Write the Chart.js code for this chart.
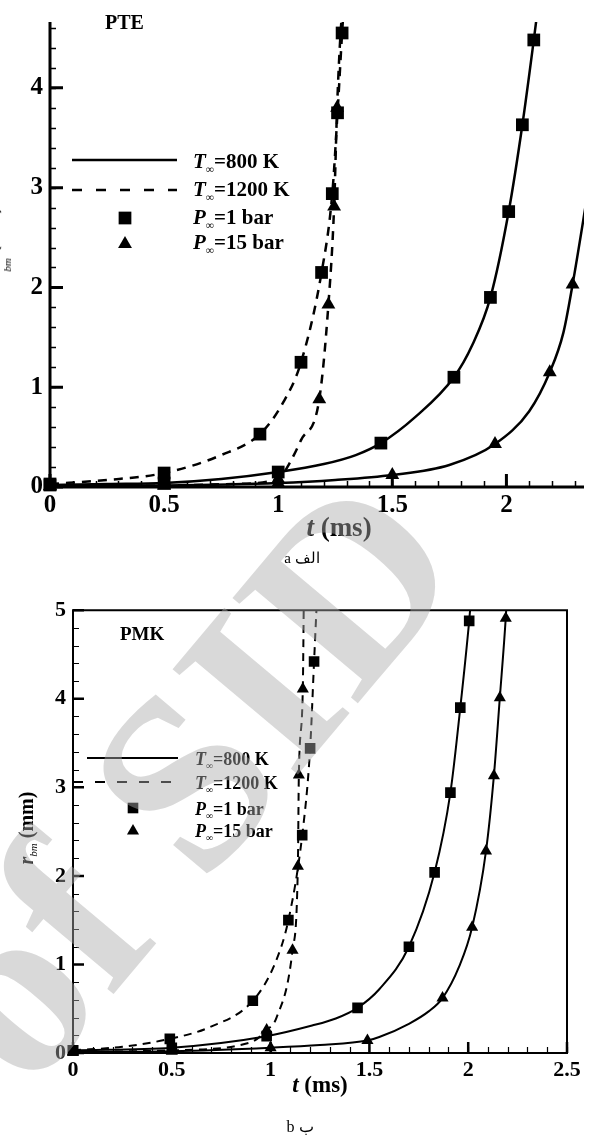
<!DOCTYPE html>
<html>
<head>
<meta charset="utf-8">
<script src="https://cdn.jsdelivr.net/npm/chart.js@4.4.1/dist/chart.umd.min.js"></script>
<style>
    html, body { margin: 0; padding: 0; background: #fff; }
    #page { position: relative; width: 593px; height: 1139px; overflow: hidden; font-family: "Liberation Serif", "Times New Roman", serif; color: #000; }
    canvas { position: absolute; left: 0; }
    .txt { position: absolute; white-space: nowrap; font-weight: bold; line-height: 1; }
    .sub { font-size: 0.55em; position: relative; top: 0.4em; font-weight: normal; }
    .subLow { font-size: 0.55em; position: relative; top: 1.3em; font-weight: normal; }
    .cap { position: absolute; white-space: nowrap; line-height: 1; transform: translateX(-50%); }
    #wm { z-index: 10; pointer-events: none; top: 0; }
</style>
</head>
<body>
<div id="page">
    <canvas id="chartA" width="593" height="560" style="top:0"></canvas>
    <canvas id="chartB" width="593" height="500" style="top:590px"></canvas>

    <!-- panel a -->
    <div class="txt" style="left:105px;top:12px;font-size:20px">PTE</div>
    <div class="txt" style="left:193px;top:151px;font-size:21px"><i>T</i><span class="sub">∞</span>=800 K</div>
    <div class="txt" style="left:193px;top:179px;font-size:21px"><i>T</i><span class="sub">∞</span>=1200 K</div>
    <div class="txt" style="left:193px;top:207px;font-size:21px"><i>P</i><span class="sub">∞</span>=1 bar</div>
    <div class="txt" style="left:193px;top:232px;font-size:21px"><i>P</i><span class="sub">∞</span>=15 bar</div>
    <div class="txt" style="left:339px;top:527px;font-size:27px;transform:translate(-50%,-50%)"><i>t</i> (ms)</div>
    <div class="txt" style="left:-10px;top:243px;font-size:20px;transform:translate(-50%,-50%) rotate(-90deg)"><i>r</i><span class="subLow"><i>bm</i></span> (mm)</div>
    <div class="cap" dir="ltr" style="left:302px;top:551px;font-size:15px">a الف</div>

    <!-- panel b -->
    <div class="txt" style="left:120px;top:624px;font-size:19px">PMK</div>
    <div class="txt" style="left:195px;top:750px;font-size:18px"><i>T</i><span class="sub">∞</span>=800 K</div>
    <div class="txt" style="left:195px;top:774px;font-size:18px"><i>T</i><span class="sub">∞</span>=1200 K</div>
    <div class="txt" style="left:195px;top:800px;font-size:18px"><i>P</i><span class="sub">∞</span>=1 bar</div>
    <div class="txt" style="left:195px;top:822px;font-size:18px"><i>P</i><span class="sub">∞</span>=15 bar</div>
    <div class="txt" style="left:320px;top:1084px;font-size:23px;transform:translate(-50%,-50%)"><i>t</i> (ms)</div>
    <div class="txt" style="left:26px;top:828px;font-size:20px;transform:translate(-50%,-50%) rotate(-90deg)"><i>r</i><span class="sub"><i>bm</i></span> (mm)</div>
    <div class="cap" dir="ltr" style="left:300px;top:1119px;font-size:16px">b ب</div>

    <canvas id="wm" width="593" height="1139"></canvas>
</div>

<script>
// ---- (a) PTE ----
const pteXTicks = [0, 0.5, 1, 1.5, 2];
const pteYTicks = [0, 1, 2, 3, 4];

// T=800 K, P=1 bar
const pte800p1T = [0, 0.25, 0.5, 0.75, 1.0, 1.2, 1.34, 1.45, 1.6, 1.77, 1.85, 1.93, 2.01, 2.07, 2.12, 2.145];
const pte800p1R = [0.02, 0.03, 0.04, 0.08, 0.15, 0.23, 0.32, 0.44, 0.70, 1.10, 1.42, 1.90, 2.76, 3.63, 4.48, 4.93];
const pte800p1Mk = [0, 2, 4, 7, 9, 11, 12, 13, 14];
// T=800 K, P=15 bar
const pte800p15T = [0, 0.5, 1.0, 1.25, 1.5, 1.75, 1.95, 2.1, 2.19, 2.25, 2.29, 2.36];
const pte800p15R = [0.01, 0.015, 0.04, 0.07, 0.12, 0.22, 0.43, 0.76, 1.15, 1.55, 2.03, 3.0];
const pte800p15Mk = [0, 1, 2, 4, 6, 8, 10];
// T=1200 K, P=1 bar
const pte1200p1T = [0, 0.25, 0.5, 0.75, 0.92, 1.02, 1.10, 1.19, 1.237, 1.26, 1.28, 1.29];
const pte1200p1R = [0.03, 0.07, 0.14, 0.32, 0.53, 0.84, 1.25, 2.15, 2.94, 3.75, 4.55, 4.9];
const pte1200p1Mk = [0, 2, 4, 6, 7, 8, 9, 10];
// T=1200 K, P=15 bar
const pte1200p15T = [0, 0.5, 0.8, 1.0, 1.05, 1.1, 1.18, 1.22, 1.245, 1.258, 1.272, 1.285];
const pte1200p15R = [0.005, 0.015, 0.03, 0.08, 0.24, 0.47, 0.88, 1.83, 2.81, 3.8, 4.5, 4.9];
const pte1200p15Mk = [0, 1, 3, 6, 7, 8, 9];

// ---- (b) PMK ----
const pmkXTicks = [0, 0.5, 1, 1.5, 2, 2.5];
const pmkYTicks = [0, 1, 2, 3, 4, 5];

const pmk800p1T = [0, 0.5, 0.98, 1.21, 1.33, 1.44, 1.55, 1.70, 1.83, 1.91, 1.96, 2.005, 2.015];
const pmk800p1R = [0.03, 0.06, 0.19, 0.31, 0.39, 0.51, 0.72, 1.20, 2.04, 2.94, 3.90, 4.88, 5.15];
const pmk800p1Mk = [0, 1, 2, 5, 7, 8, 9, 10, 11];

const pmk800p15T = [0, 0.5, 1.0, 1.25, 1.49, 1.55, 1.7, 1.8, 1.87, 1.955, 2.02, 2.09, 2.13, 2.16, 2.19, 2.196];
const pmk800p15R = [0.01, 0.02, 0.06, 0.09, 0.14, 0.18, 0.33, 0.47, 0.62, 0.98, 1.42, 2.28, 3.13, 4.01, 4.91, 5.15];
const pmk800p15Mk = [0, 1, 2, 4, 8, 10, 11, 12, 13, 14];

const pmk1200p1T = [0, 0.25, 0.49, 0.69, 0.91, 1.02, 1.09, 1.16, 1.20, 1.22, 1.235];
const pmk1200p1R = [0.03, 0.07, 0.16, 0.29, 0.59, 1.0, 1.50, 2.46, 3.44, 4.42, 5.15];
const pmk1200p1Mk = [0, 2, 4, 6, 7, 8, 9];

const pmk1200p15T = [0, 0.5, 0.9, 0.98, 1.03, 1.111, 1.138, 1.143, 1.163, 1.168];
const pmk1200p15R = [0.01, 0.03, 0.12, 0.26, 0.40, 1.16, 2.11, 3.14, 4.11, 5.1];
const pmk1200p15Mk = [0, 1, 3, 5, 6, 7, 8];

// axes, inward ticks, and the little legend symbols
const framePlugin = {
    id: 'frame',
    beforeDatasetsDraw(chart, args, o) {
        const { ctx, chartArea: a, scales: { x, y } } = chart;
        ctx.save();
        ctx.strokeStyle = '#000';
        ctx.lineCap = 'butt';

        // minor ticks
        ctx.lineWidth = o.minorWidth;
        ctx.beginPath();
        const nx = Math.round(x.max / o.minorX);
        for (let i = 0; i <= nx; i++) {
            const px = Math.round(x.getPixelForValue(i * o.minorX)) + 0.5;
            ctx.moveTo(px, a.bottom); ctx.lineTo(px, a.bottom - o.minorLen);
        }
        const ny = Math.round(y.max / o.minorY);
        for (let i = 0; i <= ny; i++) {
            const py = Math.round(y.getPixelForValue(i * o.minorY)) + 0.5;
            ctx.moveTo(a.left, py); ctx.lineTo(a.left + o.minorLen, py);
        }
        ctx.stroke();

        // major ticks
        ctx.lineWidth = o.majorWidth;
        ctx.beginPath();
        x.ticks.forEach(t => {
            const px = x.getPixelForValue(t.value);
            ctx.moveTo(px, a.bottom); ctx.lineTo(px, a.bottom - o.majorLen);
        });
        y.ticks.forEach(t => {
            const py = y.getPixelForValue(t.value);
            ctx.moveTo(a.left, py); ctx.lineTo(a.left + o.majorLen, py);
        });
        ctx.stroke();

        // axis lines / box
        ctx.lineWidth = o.axisWidth;
        ctx.beginPath();
        if (o.box) {
            ctx.rect(a.left, a.top, a.right - a.left, a.bottom - a.top);
        } else {
            ctx.moveTo(a.left, a.top); ctx.lineTo(a.left, a.bottom); ctx.lineTo(a.right, a.bottom);
        }
        ctx.stroke();
        ctx.restore();
    },
    afterDraw(chart, args, o) {
        const ctx = chart.ctx;
        const L = o.legend;
        ctx.save();
        ctx.strokeStyle = '#000';
        ctx.fillStyle = '#000';
        ctx.lineWidth = o.lineWidth;
        ctx.beginPath();
        ctx.moveTo(L.solid[0], L.solid[2]); ctx.lineTo(L.solid[1], L.solid[2]);
        ctx.stroke();
        ctx.setLineDash(L.dash);
        ctx.beginPath();
        ctx.moveTo(L.dashed[0], L.dashed[2]); ctx.lineTo(L.dashed[1], L.dashed[2]);
        ctx.stroke();
        ctx.setLineDash([]);
        const s = o.rectR / Math.SQRT2;
        ctx.fillRect(L.square[0] - s, L.square[1] - s, 2 * s, 2 * s);
        const r = o.triR;
        ctx.beginPath();
        ctx.moveTo(L.tri[0], L.tri[1] - r);
        ctx.lineTo(L.tri[0] + 0.866 * r, L.tri[1] + r / 2);
        ctx.lineTo(L.tri[0] - 0.866 * r, L.tri[1] + r / 2);
        ctx.closePath();
        ctx.fill();
        ctx.restore();
    }
};

function makeSeries(t, r, mk, dashed, style, p) {
    return {
        data: t.map((v, i) => ({ x: v, y: r[i] })),
        borderColor: '#000',
        backgroundColor: '#000',
        borderWidth: p.lineWidth,
        borderDash: dashed ? p.dash : [],
        cubicInterpolationMode: 'monotone',
        pointStyle: style,
        pointRadius: t.map((v, i) => mk.includes(i) ? (style === 'rect' ? p.rectR : p.triR) : 0),
        pointBorderWidth: 0,
        pointBackgroundColor: '#000',
        clip: { left: 14, top: 0, right: 0, bottom: 14 }
    };
}

function makePanel(id, p) {
    const tickFont = { family: 'Liberation Serif', weight: 'bold', size: p.tickSize };
    return new Chart(document.getElementById(id), {
        type: 'line',
        data: { datasets: p.series.map(s => makeSeries(s[0], s[1], s[2], s[3], s[4], p)) },
        options: {
            responsive: false,
            animation: false,
            events: [],
            layout: { padding: p.padding },
            plugins: {
                legend: { display: false },
                tooltip: { enabled: false },
                frame: p
            },
            scales: {
                x: {
                    type: 'linear', min: 0, max: p.xMax,
                    grid: { display: false, drawTicks: false },
                    border: { display: false },
                    ticks: { font: tickFont, color: '#000', padding: p.xPad, maxRotation: 0, callback: v => String(v) },
                    afterBuildTicks: s => { s.ticks = p.xTicks.map(v => ({ value: v })); },
                    afterFit: s => { s.height = p.xHeight; }
                },
                y: {
                    type: 'linear', min: 0, max: p.yMax,
                    grid: { display: false, drawTicks: false },
                    border: { display: false },
                    ticks: { font: tickFont, color: '#000', padding: p.yPad, callback: v => String(v) },
                    afterBuildTicks: s => { s.ticks = p.yTicks.map(v => ({ value: v })); },
                    afterFit: s => { s.width = p.yWidth; }
                }
            }
        },
        plugins: [framePlugin]
    });
}

makePanel('chartA', {
    xMax: 2.34, yMax: 4.66, xTicks: pteXTicks, yTicks: pteYTicks,
    padding: { top: 12, right: 0, left: 0, bottom: 0 },
    xHeight: 73, yWidth: 50, xPad: 4, yPad: 7, tickSize: 25,
    lineWidth: 2.5, dash: [9, 7], rectR: 9, triR: 8,
    minorX: 0.1, minorY: 0.2, minorLen: 6, majorLen: 13, minorWidth: 1.5, majorWidth: 3, axisWidth: 3,
    box: false,
    legend: { solid: [72, 177, 160], dashed: [72, 177, 190], dash: [10, 14], square: [125, 218], tri: [125, 244] },
    series: [
        [pte800p1T, pte800p1R, pte800p1Mk, false, 'rect'],
        [pte800p15T, pte800p15R, pte800p15Mk, false, 'triangle'],
        [pte1200p1T, pte1200p1R, pte1200p1Mk, true, 'rect'],
        [pte1200p15T, pte1200p15R, pte1200p15Mk, true, 'triangle']
    ]
});

makePanel('chartB', {
    xMax: 2.5, yMax: 5, xTicks: pmkXTicks, yTicks: pmkYTicks,
    padding: { top: 13, right: 26, left: 0, bottom: 0 },
    xHeight: 37, yWidth: 73, xPad: 4, yPad: 7, tickSize: 22,
    lineWidth: 2, dash: [8, 6], rectR: 7.5, triR: 7,
    minorX: 0.1, minorY: 0.2, minorLen: 6, majorLen: 11, minorWidth: 1.2, majorWidth: 2.5, axisWidth: 2,
    box: true,
    legend: { solid: [87, 178, 168], dashed: [73, 178, 192], dash: [10, 12], square: [133, 218], tri: [133, 241] },
    series: [
        [pmk800p1T, pmk800p1R, pmk800p1Mk, false, 'rect'],
        [pmk800p15T, pmk800p15R, pmk800p15Mk, false, 'triangle'],
        [pmk1200p1T, pmk1200p1R, pmk1200p1Mk, true, 'rect'],
        [pmk1200p15T, pmk1200p15R, pmk1200p15Mk, true, 'triangle']
    ]
});

// grey "of SID" watermark across both panels
function drawWatermark() {
    const ctx = document.getElementById('wm').getContext('2d');
    ctx.save();
    ctx.translate(29, 1095);
    ctx.rotate(-50 * Math.PI / 180);
    ctx.font = 'bold 250px "Liberation Serif"';
    ctx.fillStyle = 'rgba(170,170,170,0.45)';
    ctx.fillText('of SID', 0, 0);
    ctx.restore();
}
drawWatermark();
</script>
</body>
</html>
